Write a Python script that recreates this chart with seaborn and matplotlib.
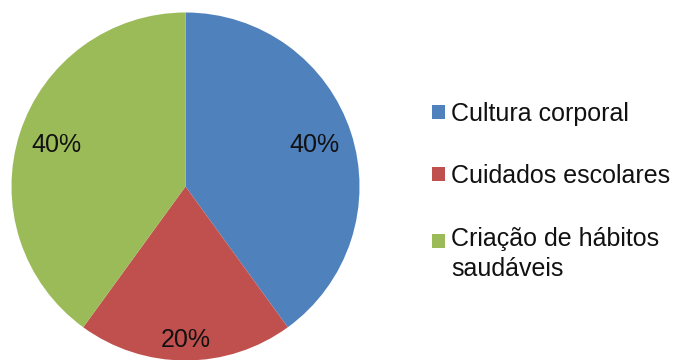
import numpy as np
import matplotlib
matplotlib.use("Agg")
import matplotlib.pyplot as plt
from matplotlib.patches import Patch, Rectangle
from matplotlib.legend_handler import HandlerPatch
import seaborn as sns

# Data
categories = ["Cultura corporal", "Cuidados escolares", "Criação de hábitos\nsaudáveis"]
values = [40, 20, 40]
pct_labels = ["40%", "20%", "40%"]

sns.set_theme(style="white")
plt.rcParams["font.family"] = ["Liberation Sans", "DejaVu Sans"]

colors = ["#4F81BD", "#C0504D", "#9BBB59"]
label_radius = [0.78, 0.88, 0.78]
FS = 18

fig = plt.figure(figsize=(6.73, 3.6), dpi=100)
ax = fig.add_axes([0.01709, -0.0014, 0.5171, 0.9667])

wedges, _ = ax.pie(values, colors=colors, startangle=90, counterclock=False,
                   radius=1.0, wedgeprops=dict(linewidth=0))
ax.set_xlim(-1, 1)
ax.set_ylim(-1, 1)
ax.set_aspect("equal")
ax.axis("off")

# Percent labels placed along each wedge's bisector
for w, txt, r in zip(wedges, pct_labels, label_radius):
    mid = np.deg2rad((w.theta1 + w.theta2) / 2)
    ax.text(r * np.cos(mid), r * np.sin(mid), txt, ha="center", va="center",
            fontsize=FS, color="#111111")

# Legend swatches; the two-line entry keeps its swatch beside the first line
LINE_SHIFT = 10.0


def first_line_square(legend, orig_handle, xdescent, ydescent, width, height, fontsize):
    return Rectangle((-xdescent, -ydescent + LINE_SHIFT), width, height)


handles = [Patch(facecolor=c, edgecolor="none") for c in colors]
handler_map = {handles[2]: HandlerPatch(patch_func=first_line_square)}
leg = fig.legend(handles, categories, loc="upper left", bbox_to_anchor=(0.6419, 0.718),
                 frameon=False, fontsize=FS, handlelength=0.52, handleheight=0.48,
                 handletextpad=0.24, labelspacing=1.55, borderpad=0, borderaxespad=0,
                 labelcolor="#111111", handler_map=handler_map)
for t in leg.get_texts():
    t.set_linespacing(1.3)

fig.savefig("out.png", dpi=100)
